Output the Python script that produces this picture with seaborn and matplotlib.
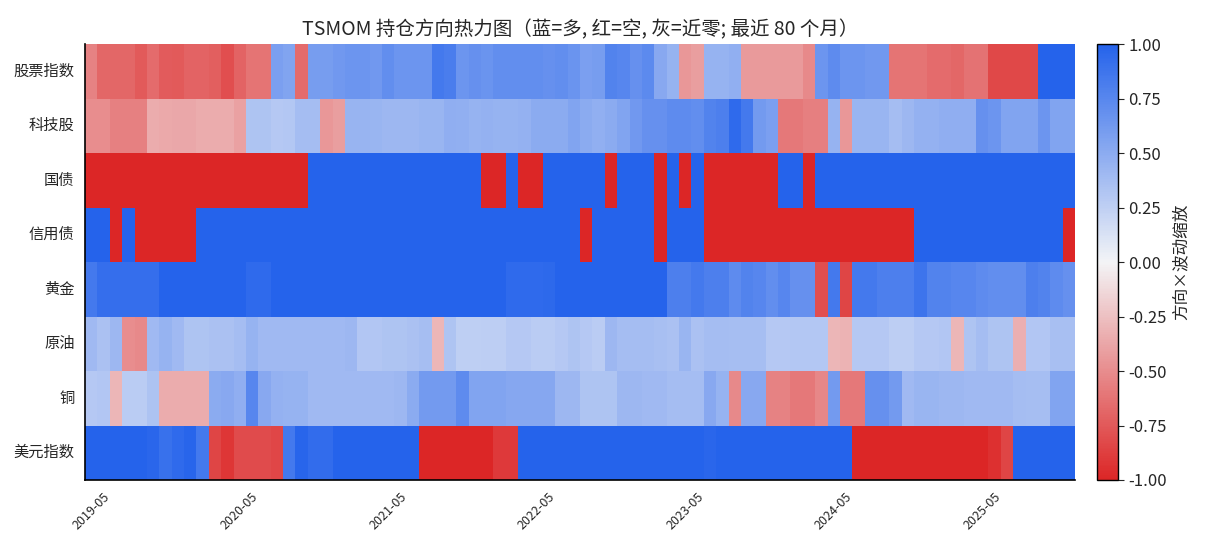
import pandas as pd
import matplotlib
matplotlib.use("Agg")
import matplotlib.pyplot as plt
from matplotlib.colors import LinearSegmentedColormap
import seaborn as sns

sns.set_style("white")
plt.rcParams['font.family'] = ['Noto Sans CJK SC', 'DejaVu Sans']
plt.rcParams['axes.unicode_minus'] = False

# asset names (rows) and month range (80 months)
assets = ['股票指数', '科技股', '国债', '信用债', '黄金', '原油', '铜', '美元指数']
months = pd.date_range('2019-05', periods=80, freq='MS').strftime('%Y-%m').tolist()

# direction x vol scaling
equity = [-0.55, -0.68, -0.68, -0.68, -0.75, -0.66, -0.74, -0.75, -0.70, -0.70,
          -0.72, -0.80, -0.70, -0.62, -0.62, 0.58, 0.55, -0.66, 0.60, 0.60,
          0.63, 0.65, 0.65, 0.63, 0.70, 0.65, 0.65, 0.65, 0.85, 0.82,
          0.65, 0.68, 0.66, 0.70, 0.70, 0.70, 0.70, 0.68, 0.70, 0.66,
          0.58, 0.60, 0.78, 0.75, 0.68, 0.73, 0.52, 0.45, -0.45, -0.42,
          0.45, 0.45, 0.47, -0.43, -0.43, -0.43, -0.43, -0.43, -0.52, 0.65,
          0.72, 0.65, 0.65, 0.63, 0.63, -0.62, -0.62, -0.62, -0.66, -0.66,
          -0.68, -0.63, -0.63, -0.83, -0.83, -0.83, -0.83, 1.00, 1.00, 1.00]
tech = [-0.50, -0.50, -0.56, -0.56, -0.56, -0.35, -0.36, -0.37, -0.37, -0.35,
        -0.35, -0.35, -0.40, 0.33, 0.33, 0.30, 0.31, 0.38, 0.38, -0.45,
        -0.42, 0.44, 0.44, 0.43, 0.42, 0.42, 0.42, 0.43, 0.43, 0.48,
        0.47, 0.45, 0.46, 0.45, 0.45, 0.46, 0.50, 0.50, 0.50, 0.55,
        0.50, 0.47, 0.50, 0.55, 0.63, 0.68, 0.68, 0.72, 0.72, 0.70,
        0.78, 0.80, 0.95, 0.85, 0.62, 0.58, -0.60, -0.60, -0.57, -0.57,
        0.45, -0.45, 0.43, 0.43, 0.43, 0.38, 0.42, 0.46, 0.46, 0.48,
        0.48, 0.48, 0.68, 0.65, 0.55, 0.55, 0.55, 0.65, 0.55, 0.55]
treasury = [-1, -1, -1, -1, -1, -1, -1, -1, -1, -1,
            -1, -1, -1, -1, -1, -1, -1, -1, 1, 1,
            1, 1, 1, 1, 1, 1, 1, 1, 1, 1,
            1, 1, -1, -1, 1, -1, -1, 1, 1, 1,
            1, 1, -1, 1, 1, 1, -1, 1, -1, 1,
            -1, -1, -1, -1, -1, -1, 1, 1, -1, 1,
            1, 1, 1, 1, 1, 1, 1, 1, 1, 1,
            1, 1, 1, 1, 1, 1, 1, 1, 1, 1]
credit = [1, 1, -1, 1, -1, -1, -1, -1, -1, 1,
          1, 1, 1, 1, 1, 1, 1, 1, 1, 1,
          1, 1, 1, 1, 1, 1, 1, 1, 1, 1,
          1, 1, 1, 1, 1, 1, 1, 1, 1, 1,
          -1, 1, 1, 1, 1, 1, -1, 1, 1, 1,
          -1, -1, -1, -1, -1, -1, -1, -1, -1, -1,
          -1, -1, -1, -1, -1, -1, -1, 1, 1, 1,
          1, 1, 1, 1, 1, 1, 1, 1, 1, -1]
gold = [0.85, 0.92, 0.92, 0.92, 0.92, 0.92, 1.00, 1.00, 1.00, 1.00,
        1.00, 1.00, 1.00, 0.95, 0.95, 1.00, 1.00, 1.00, 1.00, 1.00,
        1.00, 1.00, 1.00, 1.00, 1.00, 1.00, 1.00, 1.00, 1.00, 1.00,
        1.00, 1.00, 1.00, 1.00, 0.95, 0.95, 0.95, 0.96, 1.00, 1.00,
        1.00, 1.00, 1.00, 1.00, 1.00, 1.00, 1.00, 0.80, 0.80, 0.85,
        0.80, 0.80, 0.72, 0.78, 0.75, 0.70, 0.75, 0.68, 0.68, -0.80,
        0.85, -0.85, 0.85, 0.85, 0.80, 0.80, 0.80, 0.88, 0.78, 0.78,
        0.75, 0.75, 0.72, 0.70, 0.70, 0.70, 0.80, 0.78, 0.72, 0.68]
oil = [0.40, 0.35, 0.42, -0.50, -0.52, 0.40, 0.45, 0.40, 0.33, 0.33,
       0.35, 0.35, 0.38, 0.45, 0.40, 0.40, 0.40, 0.40, 0.40, 0.40,
       0.40, 0.42, 0.32, 0.32, 0.33, 0.33, 0.35, 0.37, -0.30, 0.33,
       0.25, 0.25, 0.26, 0.26, 0.30, 0.30, 0.28, 0.28, 0.30, 0.33,
       0.30, 0.28, 0.42, 0.38, 0.38, 0.38, 0.36, 0.35, 0.43, 0.35,
       0.38, 0.38, 0.37, 0.37, 0.37, 0.30, 0.30, 0.31, 0.31, 0.31,
       -0.30, -0.32, 0.30, 0.30, 0.30, 0.26, 0.26, 0.30, 0.30, 0.32,
       -0.30, 0.33, 0.38, 0.33, 0.33, -0.33, 0.32, 0.32, 0.36, 0.36]
copper = [0.30, 0.32, -0.30, 0.28, 0.28, 0.34, -0.35, -0.35, -0.35, -0.35,
          0.50, 0.52, 0.48, 0.75, 0.52, 0.46, 0.45, 0.45, 0.40, 0.40,
          0.40, 0.40, 0.40, 0.40, 0.40, 0.42, 0.50, 0.62, 0.62, 0.62,
          0.72, 0.55, 0.55, 0.55, 0.53, 0.53, 0.53, 0.53, 0.42, 0.42,
          0.33, 0.33, 0.33, 0.42, 0.42, 0.40, 0.40, 0.38, 0.38, 0.38,
          0.52, 0.45, -0.52, 0.52, 0.52, -0.55, -0.55, -0.60, -0.60, -0.53,
          0.62, -0.60, -0.60, 0.68, 0.68, 0.62, 0.40, 0.43, 0.43, 0.42,
          0.42, 0.40, 0.40, 0.40, 0.40, 0.38, 0.37, 0.37, 0.55, 0.55]
usd = [1.00, 1.00, 1.00, 1.00, 1.00, 0.97, 0.90, 0.95, 0.98, 0.85,
       -0.85, -0.92, -0.82, -0.82, -0.82, -0.84, 0.85, 0.98, 0.93, 0.93,
       1.00, 1.00, 1.00, 1.00, 1.00, 1.00, 1.00, -1.00, -1.00, -1.00,
       -1.00, -1.00, -1.00, -0.90, -0.90, 1.00, 1.00, 1.00, 1.00, 1.00,
       1.00, 1.00, 1.00, 1.00, 1.00, 1.00, 1.00, 1.00, 1.00, 1.00,
       0.97, 1.00, 1.00, 1.00, 1.00, 1.00, 1.00, 1.00, 1.00, 1.00,
       1.00, 1.00, -1.00, -1.00, -1.00, -1.00, -1.00, -1.00, -1.00, -1.00,
       -1.00, -1.00, -1.00, -0.95, -0.85, 1.00, 1.00, 1.00, 1.00, 1.00]

df = pd.DataFrame([equity, tech, treasury, credit, gold, oil, copper, usd],
                  index=assets, columns=months)

cmap = LinearSegmentedColormap.from_list('dir', ['#dc2626', '#f3f4f6', '#2563eb'])

fig = plt.figure(figsize=(12.1, 5.5), dpi=100)
ax = fig.add_axes([85 / 1210, 70 / 550, 990 / 1210, 436 / 550])
cax = fig.add_axes([1097 / 1210, 70 / 550, 21 / 1210, 436 / 550])

sns.heatmap(df, cmap=cmap, vmin=-1, vmax=1, ax=ax, cbar_ax=cax,
            xticklabels=12, yticklabels=True,
            cbar_kws={'label': '方向×波动缩放'})

ax.set_title('TSMOM 持仓方向热力图（蓝=多, 红=空, 灰=近零; 最近 80 个月）', fontsize=14, pad=6)
ax.set_xlabel('')
ax.set_ylabel('')
ax.tick_params(axis='x', labelsize=9, length=4)
ax.tick_params(axis='y', labelsize=11, length=4, rotation=0)
for lbl in ax.get_xticklabels():
    lbl.set_rotation(45)
    lbl.set_ha('center')
for side in ['left', 'bottom']:
    ax.spines[side].set_visible(True)
    ax.spines[side].set_color('black')
    ax.spines[side].set_linewidth(1.2)

cbar = ax.collections[0].colorbar
cbar.set_ticks([-1, -0.75, -0.5, -0.25, 0, 0.25, 0.5, 0.75, 1])
cbar.set_ticklabels(['%.2f' % t for t in [-1, -0.75, -0.5, -0.25, 0, 0.25, 0.5, 0.75, 1]])
cbar.ax.tick_params(labelsize=12, length=4)
cbar.ax.yaxis.label.set_size(12)
cbar.outline.set_visible(True)
cbar.outline.set_edgecolor('black')
cbar.outline.set_linewidth(1)

fig.savefig('out.png', dpi=100)
